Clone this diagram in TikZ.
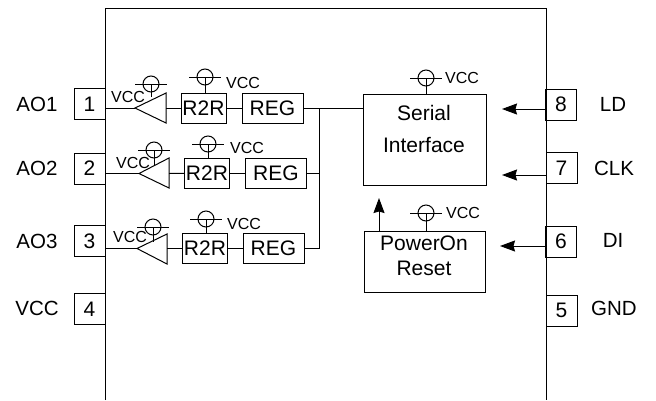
\documentclass[tikz,border=0pt]{standalone}
\usepackage{fontspec}
\setmainfont{Liberation Sans}
\usetikzlibrary{arrows.meta}
\tikzset{
  box/.style={shape=rectangle,draw,inner sep=0pt,font=\fontsize{21}{21}\selectfont},
  pinbox/.style={box,minimum width=31pt,minimum height=31pt},
  pinname/.style={font=\fontsize{20.5}{21}\selectfont,inner sep=0pt},
  vcc/.style={font=\fontsize{16}{16}\selectfont,inner sep=0pt},
  ring/.style={shape=circle,draw,inner sep=0pt,minimum size=16pt},
}
\begin{document}
\begin{tikzpicture}[x=1pt,y=-1pt,line width=1pt,>={Stealth[length=15pt,width=11pt,inset=1.5pt]}]
\useasboundingbox (0,0) rectangle (656,400);
\draw (105,400) -- (105,8) -- (546,8) -- (546,400);
% pins
\node (1) at (89.5,104) [pinbox] {1};
\node (2) at (89.5,168.5) [pinbox] {2};
\node (3) at (89.5,241) [pinbox] {3};
\node (4) at (89.5,309) [pinbox] {4};
\node (8) at (561,104.5) [pinbox] {8};
\node (7) at (561.5,168) [pinbox] {7};
\node (6) at (561,241.5) [pinbox] {6};
\node (5) at (561.5,310.5) [pinbox] {5};
\node (ao1) at (37,104) [pinname] {AO1};
\node (ao2) at (37,168) [pinname] {AO2};
\node (ao3) at (37,241) [pinname] {AO3};
\node (vccpin) at (37,308) [pinname] {VCC};
\node (ld) at (613,104) [pinname] {LD};
\node (clk) at (614,168) [pinname] {CLK};
\node (di) at (613,240) [pinname] {DI};
\node (gnd) at (614,308) [pinname] {GND};
% blocks
\node (r2r1) at (203.5,108) [box,minimum width=45pt,minimum height=30pt] {R2R};
\node (reg1) at (272.5,108) [box,minimum width=61pt,minimum height=30pt] {REG};
\node (r2r2) at (207,173) [box,minimum width=45pt,minimum height=30pt] {R2R};
\node (reg2) at (276,173) [box,minimum width=61pt,minimum height=30pt] {REG};
\node (r2r3) at (205,248.5) [box,minimum width=45pt,minimum height=30pt] {R2R};
\node (reg3) at (273.5,248.5) [box,minimum width=61pt,minimum height=30pt] {REG};
\node (serial) at (424.5,139.5) [box,minimum width=123pt,minimum height=91pt] {};
\node (power) at (424.5,261.5) [box,minimum width=121pt,minimum height=61pt] {};
\node (serialtxt) at (424,129) [font=\fontsize{21}{32}\selectfont,align=center,inner sep=0pt] {Serial\\Interface};
\node (powertxt) at (424,255.5) [font=\fontsize{21}{25}\selectfont,align=center,inner sep=0pt] {PowerOn\\Reset};
% amplifiers
\coordinate (tip1) at (135,108);
\coordinate (up1) at (166,93);
\coordinate (dn1) at (166,123);
\coordinate (in1) at (166,108);
\coordinate (tip2) at (139,173.5);
\coordinate (up2) at (169,158);
\coordinate (dn2) at (169,188);
\coordinate (in2) at (169,173.5);
\coordinate (tip3) at (137,248.5);
\coordinate (up3) at (167,234);
\coordinate (dn3) at (167,264);
\coordinate (in3) at (167,248.5);
\draw (tip1) -- (up1) -- (dn1) -- cycle;
\draw (tip2) -- (up2) -- (dn2) -- cycle;
\draw (tip3) -- (up3) -- (dn3) -- cycle;
% vcc marks
\node (v1) at (151,84) [ring] {};
\node (v2) at (205,77) [ring] {};
\node (v3) at (154,150) [ring] {};
\node (v4) at (208,144) [ring] {};
\node (v5) at (153,227) [ring] {};
\node (v6) at (206,219) [ring] {};
\node (v7) at (426,78) [ring] {};
\node (v8) at (426,213) [ring] {};
\draw ([xshift=-16pt]v1.center) -- ([xshift=16pt]v1.center);
\draw ([xshift=-16pt]v2.center) -- ([xshift=16pt]v2.center);
\draw ([xshift=-16pt]v3.center) -- ([xshift=16pt]v3.center);
\draw ([xshift=-16pt]v4.center) -- ([xshift=16pt]v4.center);
\draw ([xshift=-16pt]v5.center) -- ([xshift=16pt]v5.center);
\draw ([xshift=-16pt]v6.center) -- ([xshift=16pt]v6.center);
\draw ([xshift=-16pt]v7.center) -- ([xshift=16pt]v7.center);
\draw ([xshift=-16pt]v8.center) -- ([xshift=16pt]v8.center);
\draw (v1.center) -- ++(0,13);
\draw (v2.center) -- (v2.center |- r2r1.north);
\draw (v3.center) -- ++(0,15);
\draw (v4.center) -- (v4.center |- r2r2.north);
\draw (v5.center) -- ++(0,15);
\draw (v6.center) -- (v6.center |- r2r3.north);
\draw (v7.center) -- (v7.center |- serial.north);
\draw (v8.center) -- (v8.center |- power.north);
\node (t1) at (128,97) [vcc] {VCC};
\node (t2) at (243,83) [vcc] {VCC};
\node (t3) at (133,163) [vcc] {VCC};
\node (t4) at (247,148) [vcc] {VCC};
\node (t5) at (130,237) [vcc] {VCC};
\node (t6) at (244,224) [vcc] {VCC};
\node (t7) at (462,78) [vcc] {VCC};
\node (t8) at (463,213) [vcc] {VCC};
% wires
\coordinate (pad1) at (105,108);
\coordinate (pad2) at (105,173.5);
\coordinate (pad3) at (105,248.5);
\coordinate (bus1) at (319,108);
\coordinate (bus2) at (319,173);
\coordinate (bus3) at (319,248.5);
\draw (pad1) -- (tip1);
\draw (pad2) -- (tip2);
\draw (pad3) -- (tip3);
\draw (in1) -- (r2r1);
\draw (in2) -- (r2r2);
\draw (in3) -- (r2r3);
\draw (r2r1) -- (reg1);
\draw (r2r2) -- (reg2);
\draw (r2r3) -- (reg3);
\draw (reg1) -- (bus1);
\draw (reg2) -- (bus2);
\draw (reg3) -- (bus3);
\draw (bus1) -- (bus3);
\draw (bus1) -- (bus1 -| serial.west);
\coordinate (pad8) at (546,109);
\coordinate (pad7) at (546,175);
\coordinate (pad6) at (546,246);
\coordinate (end8) at (502,109);
\coordinate (end7) at (502,175);
\coordinate (end6) at (500,246);
\coordinate (reset) at (379,198);
\draw [->] (pad8) -- (end8);
\draw [->] (pad7) -- (end7);
\draw [->] (pad6) -- (end6);
\draw [->] (reset |- power.north) -- (reset);
\end{tikzpicture}
\end{document}
